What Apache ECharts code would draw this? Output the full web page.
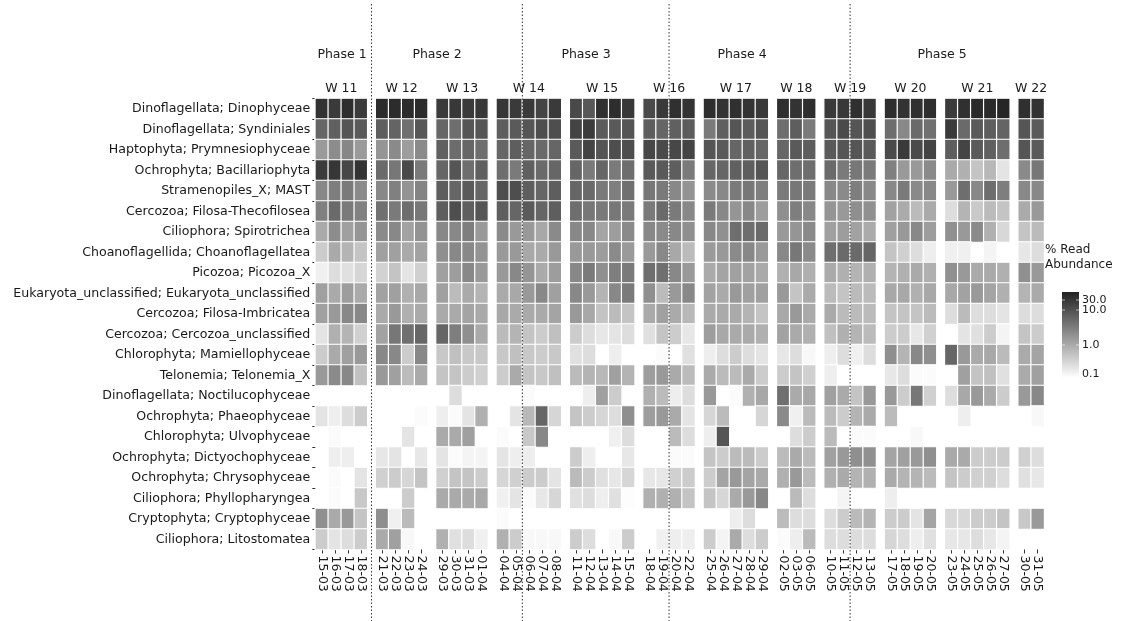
<!DOCTYPE html>
<html><head><meta charset="utf-8">
<script src="https://cdn.jsdelivr.net/npm/echarts@6/dist/echarts.min.js"></script>
<style>html,body{margin:0;padding:0;background:#fff}#c{width:1123px;height:621px}</style>
</head><body><div id="c"></div>
<script>
// ---------- DATA ----------
const weeks = ['W 11','W 12','W 13','W 14','W 15','W 16','W 17','W 18','W 19','W 20','W 21','W 22'];
const weekDates = [
  ['15-03','16-03','17-03','18-03'],
  ['21-03','22-03','23-03','24-03'],
  ['29-03','30-03','31-03','01-04'],
  ['04-04','05-04','06-04','07-04','08-04'],
  ['11-04','12-04','13-04','14-04','15-04'],
  ['18-04','19-04','20-04','22-04'],
  ['25-04','26-04','27-04','28-04','29-04'],
  ['02-05','03-05','06-05'],
  ['10-05','11-05','12-05','13-05'],
  ['17-05','18-05','19-05','20-05'],
  ['23-05','24-05','25-05','26-05','27-05'],
  ['30-05','31-05']
];
const phases = ['Phase 1','Phase 2','Phase 3','Phase 4','Phase 5'];
const phaseStarts = ['15-03','21-03','06-04','20-04','12-05'];
const taxa = [
  'Dinoflagellata; Dinophyceae','Dinoflagellata; Syndiniales','Haptophyta; Prymnesiophyceae',
  'Ochrophyta; Bacillariophyta','Stramenopiles_X; MAST','Cercozoa; Filosa-Thecofilosea',
  'Ciliophora; Spirotrichea','Choanoflagellida; Choanoflagellatea','Picozoa; Picozoa_X',
  'Eukaryota_unclassified; Eukaryota_unclassified','Cercozoa; Filosa-Imbricatea',
  'Cercozoa; Cercozoa_unclassified','Chlorophyta; Mamiellophyceae','Telonemia; Telonemia_X',
  'Dinoflagellata; Noctilucophyceae','Ochrophyta; Phaeophyceae','Chlorophyta; Ulvophyceae',
  'Ochrophyta; Dictyochophyceae','Ochrophyta; Chrysophyceae','Ciliophora; Phyllopharyngea',
  'Cryptophyta; Cryptophyceae','Ciliophora; Litostomatea'
];
const legendTicks = ['30.0','10.0','1.0','0.1'];
const _ = null;
// % read abundance, one value per date column (49 columns)
const dinophyceae = [25,21,29,20, 30,30,30,30, 20,22,21,22, 23,21,21,16,21, 14,9.2,27,29,22, 13.5,21,27,25, 29,25,27,25,22, 29,25,29, 21,22,27,22, 29,25,27,29, 20,27,32,32,36, 27,25];
const syndiniales = [6.3,7.4,10,8.7, 7.8,6.7,4.8,9.5, 6.3,5.1,10,10, 7.8,8.7,10,12,12, 15.8,19.7,8.2,8.7,10, 7.8,6.3,7.4,8.2, 3.7,7.4,10,8.2,10, 5.1,7.8,3.7, 10,13.5,10,12, 5.1,2.5,5.7,4.8, 21,5.7,8.7,7.8,6.7, 10,8.7];
const prymnesiophyceae = [1.54,2.25,2.6,1.54, 1.77,2.4,1.42,2.4, 7.4,5.4,6.3,5.1, 6.3,7.8,6.3,5.7,6.3, 8.7,15.8,10,12,12, 14.6,13.5,14.6,15.8, 10,8.7,6.3,7.4,6.3, 6.3,8.7,7.8, 8.7,10,10,8.7, 13.5,21,13.5,15.8, 7.8,15.8,8.7,7.4,5.1, 10,8.7];
const bacillariophyta = [20,23,14.6,25, 5.7,4.0,13.5,3.7, 6.3,10,5.1,7.4, 5.1,3.7,7.4,5.7,6.3, 6.3,3.7,6.3,3.7,5.1, 8.7,8.7,7.8,3.7, 6.3,6.3,7.4,7.8,10, 6.3,5.1,5.1, 5.7,3.7,4.0,3.7, 3.1,1.58,1.58,2.4, 1.0,0.85,0.49,0.68,0.21, 2.4,4.0];
const mast = [2.5,3.3,3.7,2.4, 2.5,3.1,1.87,2.8, 7.8,6.3,8.7,6.3, 12,12,7.8,6.3,7.8, 6.3,5.7,3.7,3.3,4.8, 4.0,3.7,2.5,1.87, 2.4,2.5,3.7,4.0,3.3, 3.7,4.0,3.7, 2.5,2.4,3.3,2.5, 2.5,3.7,2.4,2.5, 1.58,5.1,2.5,5.1,3.3, 2.5,2.5];
const thecofilosea = [3.1,5.7,3.7,3.0, 4.8,3.7,5.1,4.0, 7.8,12,7.8,10, 7.8,6.3,8.7,6.3,7.8, 5.1,4.0,3.7,4.0,3.7, 3.7,5.7,3.7,2.5, 3.7,2.5,1.77,2.5,1.42, 2.1,3.3,2.5, 1.77,1.58,2.1,2.0, 1.24,0.97,0.63,1.0, 0.25,0.76,0.43,0.63,0.49, 1.0,1.58];
const spirotrichea = [1.0,2.25,1.31,1.77, 2.4,2.5,1.24,1.87, 2.5,2.5,3.3,1.58, 2.4,1.58,1.58,1.06,2.4, 2.5,2.5,1.18,1.42,2.4, 2.5,2.4,2.5,2.1, 2.5,2.0,5.1,5.1,5.7, 1.58,1.77,2.4, 1.31,1.42,1.24,0.97, 1.31,1.58,2.5,1.42, 2.0,1.58,2.4,0.85,0.29, 0.49,0.63];
const choanoflagellatea = [0.40,1.0,0.76,0.49, 1.31,1.31,1.0,1.24, 2.1,2.5,2.5,1.87, 1.58,1.58,1.06,1.0,1.58, 1.58,1.58,1.42,2.4,1.54, 1.58,2.5,1.06,0.63, 1.54,1.58,2.4,2.5,1.58, 2.5,4.0,2.4, 5.1,5.7,5.7,6.3, 0.49,0.36,0.25,0.16, 0.15,0.15,_,0.135,_, 0.19,0.25];
const picozoa = [0.15,0.25,0.23,0.30, 0.34,0.49,0.21,0.36, 1.31,1.42,2.5,1.58, 1.58,2.5,1.77,1.0,1.42, 2.5,3.7,2.1,3.3,3.7, 5.1,4.8,2.5,1.58, 1.0,1.18,1.31,1.24,1.0, 0.85,1.06,0.85, 1.0,0.85,0.76,0.85, 0.76,0.85,1.0,0.85, 2.0,1.58,1.0,1.0,0.85, 2.0,1.58];
const eukaryotaUncl = [1.31,1.0,1.42,1.0, 1.24,1.31,0.85,1.06, 1.31,0.63,1.0,0.76, 1.0,1.06,1.58,2.5,1.31, 2.5,1.58,0.76,2.5,3.7, 2.1,0.63,1.58,2.5, 1.24,1.0,1.58,1.31,1.31, 1.58,0.49,1.0, 0.63,0.49,0.63,0.63, 1.06,1.06,0.85,1.06, 1.06,1.24,1.58,1.18,0.85, 0.76,1.0];
const imbricatea = [1.31,1.58,2.5,2.5, 1.0,1.58,0.85,1.0, 1.0,1.0,1.18,1.0, 1.06,1.0,1.0,1.0,1.18, 1.58,1.06,0.49,0.63,0.49, 1.0,1.31,1.0,0.68, 1.0,1.0,1.0,0.76,0.49, 1.06,1.58,1.0, 1.0,0.63,0.63,0.63, 0.49,0.49,0.49,0.63, 0.25,0.63,0.25,0.25,0.21, 0.25,0.25];
const cercozoaUncl = [0.21,0.85,0.76,0.36, 1.24,4.0,4.8,6.3, 6.3,3.3,2.1,1.0, 0.63,0.76,0.49,0.40,0.55, 0.40,0.25,0.19,0.21,0.25, 0.23,0.49,0.40,0.19, 1.42,1.06,1.0,1.0,0.85, 1.24,1.0,0.85, 0.55,0.85,0.76,0.63, 0.40,0.40,0.19,0.36, _,0.21,0.23,0.40,0.135, 0.49,0.40];
const mamiellophyceae = [0.40,1.0,1.31,1.58, 2.5,2.5,0.40,2.5, 0.44,0.55,0.44,0.44, 0.44,0.55,0.44,0.40,0.44, 0.23,0.25,_,0.16,_, _,0.11,_,0.23, 0.16,0.25,0.40,0.25,0.21, 0.19,0.25,0.12, 0.16,0.25,0.15,0.25, 2.1,0.76,2.5,2.1, 6.3,1.58,1.0,1.06,0.63, 1.0,1.18];
const telonemia = [1.58,2.4,2.5,0.55, 1.58,1.31,0.63,1.0, 0.49,0.49,0.40,0.36, 0.40,1.0,0.49,0.44,0.55, 0.63,0.76,0.68,1.31,0.76, 1.42,1.58,1.0,0.63, 1.0,0.63,0.63,1.0,0.40, 0.40,0.49,0.36, 0.16,_,_,_, 0.19,0.25,0.11,0.11, _,1.31,0.49,0.55,0.23, 1.0,1.31];
const noctilucophyceae = [_,_,_,_, _,_,_,_, _,0.25,_,_, _,_,0.11,_,_, _,0.16,1.31,0.40,_, 0.85,0.63,0.16,0.25, 1.58,_,0.11,0.85,1.06, 4.8,1.0,1.06, 1.31,1.0,0.49,1.58, 1.58,0.40,4.0,0.36, 0.25,1.06,1.58,1.0,0.40, 1.58,2.5];
const phaeophyceae = [0.21,0.16,0.25,0.40, _,_,_,0.11, 0.16,0.11,0.21,0.85, _,0.21,0.68,6.3,0.30, 0.49,0.40,0.30,0.25,2.1, 1.42,1.58,1.0,0.21, 0.30,0.63,_,_,0.30, 2.4,0.15,0.63, 0.63,0.40,0.76,1.0, 0.63,_,_,_, _,0.16,_,_,_, _,0.12];
const ulvophyceae = [_,0.11,_,_, _,_,0.21,_, 1.0,1.0,1.31,_, 0.11,_,0.44,2.5,_, _,_,_,0.15,0.25, _,_,0.63,0.25, 0.16,10,_,_,_, _,0.25,0.40, 0.63,_,0.11,0.11, _,_,0.12,_, _,_,_,_,_, _,_];
const dictyochophyceae = [_,0.16,0.16,_, 0.19,0.21,_,0.19, 0.21,0.11,0.135,0.135, 0.21,0.16,0.16,_,_, 0.40,0.16,_,_,0.19, _,_,0.11,0.11, 0.49,0.40,0.63,0.63,0.40, 0.63,1.0,0.63, 1.31,1.58,2.1,2.0, 1.18,1.31,1.58,2.1, 1.0,1.0,0.40,0.40,0.40, 0.36,0.25];
const chrysophyceae = [_,0.11,_,0.21, 0.36,0.40,0.30,0.49, 0.36,0.49,0.49,0.40, 0.30,0.36,0.40,0.40,0.21, 0.63,0.40,0.23,0.19,0.30, 0.19,0.19,0.36,0.40, 0.40,1.18,1.58,1.18,1.0, 0.85,1.58,0.63, 0.85,1.0,0.76,0.85, 1.0,0.76,0.76,0.63, 0.49,0.40,0.36,0.36,0.25, 0.23,0.19];
const phyllopharyngea = [_,0.11,_,0.44, _,_,0.40,_, 1.0,1.0,1.0,1.06, 0.15,0.21,0.11,0.19,0.30, 0.23,0.25,0.16,0.23,0.106, 0.85,0.85,0.85,0.49, 0.49,0.30,1.0,1.58,2.5, _,0.63,0.25, _,0.135,_,_, 0.16,_,_,_, _,_,_,_,_, _,_];
const cryptophyceae = [2.1,1.0,1.58,0.49, 2.1,0.15,0.63,_, _,_,_,_, 0.11,_,_,_,_, _,_,_,_,_, _,_,_,_, _,_,0.16,0.25,_, 0.63,0.25,0.25, 0.25,0.40,0.63,0.76, 0.40,0.40,0.21,1.18, 0.29,0.29,0.40,0.40,0.49, 0.44,1.58];
const litostomatea = [0.40,0.21,0.25,0.40, 1.0,1.31,0.12,_, 0.85,0.23,0.25,0.15, 0.85,0.40,0.12,0.12,0.12, 0.40,0.25,_,0.12,0.40, _,0.15,0.16,0.16, 0.40,0.135,1.0,0.25,0.40, 0.11,0.16,0.63, 0.25,0.25,0.25,0.25, 0.30,0.25,0.16,0.23, 0.19,0.19,0.25,0.19,0.135, _,_];

const values = [dinophyceae, syndiniales, prymnesiophyceae, bacillariophyta, mast, thecofilosea,
  spirotrichea, choanoflagellatea, picozoa, eukaryotaUncl, imbricatea, cercozoaUncl, mamiellophyceae,
  telonemia, noctilucophyceae, phaeophyceae, ulvophyceae, dictyochophyceae, chrysophyceae,
  phyllopharyngea, cryptophyceae, litostomatea];

// ---------- LAYOUT ----------
const FONT = '"DejaVu Sans", Verdana, sans-serif';
const LEFT0 = 315.3, PITCH = 13, GAP = 8.35, TOP = 98.5, ROW_H = 20.5;
const PHASE_LABEL_X = [342, 437, 586, 742, 942];
const TEXT = '#1a1a1a';

const chart = echarts.init(document.getElementById('c'), null, {renderer: 'canvas'});
const grids = [], xAxes = [], yAxes = [], series = [], facetLeft = [];
let colStart = 0, left = LEFT0;
weekDates.forEach((dates, k) => {
  const w = dates.length * PITCH;
  facetLeft.push(left);
  grids.push({left: left, top: TOP, width: w, height: taxa.length * ROW_H});
  xAxes.push({
    type: 'category', gridIndex: k, data: dates, position: 'bottom',
    axisLine: {show: false},
    axisTick: {show: true, alignWithLabel: true, length: 4, lineStyle: {color: '#333'}},
    axisLabel: {rotate: -90, interval: 0, fontFamily: FONT, fontSize: 12.5, color: TEXT, margin: 6},
    splitLine: {show: false}
  });
  yAxes.push({
    type: 'category', gridIndex: k, data: taxa, inverse: true,
    axisLine: {show: false},
    axisTick: {show: k === 0, length: 3, lineStyle: {color: '#333'}},
    axisLabel: {show: k === 0, fontFamily: FONT, fontSize: 12.6, color: TEXT, margin: 5},
    splitLine: {show: false}
  });
  const data = [];
  taxa.forEach((t, i) => {
    dates.forEach((d, j) => {
      const v = values[i][colStart + j];
      if (v != null) data.push([j, i, v, Math.log10(v)]);
    });
  });
  series.push({
    type: 'heatmap', xAxisIndex: k, yAxisIndex: k, data: data,
    itemStyle: {borderColor: '#ffffff', borderWidth: 1.2},
    emphasis: {disabled: true}, silent: true
  });
  colStart += dates.length;
  left += w + GAP;
});

chart.setOption({
  animation: false,
  backgroundColor: '#ffffff',
  grid: grids, xAxis: xAxes, yAxis: yAxes, series: series,
  visualMap: {
    type: 'continuous', show: false, dimension: 3, min: -1, max: 1.6,
    seriesIndex: series.map((s, i) => i),
    inRange: {color: ['#ffffff', '#222222']}
  }
});

// ---------- ANNOTATIONS ----------
const g = [];
phaseStarts.slice(1).forEach(d => {
  const k = weekDates.findIndex(ds => ds.includes(d));
  const j = weekDates[k].indexOf(d);
  const cx = chart.convertToPixel({xAxisIndex: k}, j);
  const x = j === 0 ? cx - PITCH / 2 - GAP / 2 : cx - PITCH / 2;
  g.push({type: 'line', silent: true, z: 100,
    shape: {x1: x, y1: 4, x2: x, y2: 621},
    style: {stroke: '#333', lineWidth: 1, lineDash: [1.5, 2]}});
});
phases.forEach((p, i) => g.push({type: 'text', x: PHASE_LABEL_X[i], y: 55, silent: true,
  style: {text: p, font: '12.5px ' + FONT, fill: TEXT, textAlign: 'center', textVerticalAlign: 'middle'}}));
weeks.forEach((w, k) => g.push({type: 'text', x: facetLeft[k] + weekDates[k].length * PITCH / 2, y: 89, silent: true,
  style: {text: w, font: '12.5px ' + FONT, fill: TEXT, textAlign: 'center', textVerticalAlign: 'middle'}}));

// colour legend
g.push({type: 'text', x: 1045, y: 250, silent: true,
  style: {text: '% Read', font: '12px ' + FONT, fill: TEXT, textAlign: 'left', textVerticalAlign: 'middle'}});
g.push({type: 'text', x: 1045, y: 265, silent: true,
  style: {text: 'Abundance', font: '12px ' + FONT, fill: TEXT, textAlign: 'left', textVerticalAlign: 'middle'}});
g.push({type: 'rect', silent: true, shape: {x: 1062, y: 292, width: 17, height: 86},
  style: {fill: new echarts.graphic.LinearGradient(0, 0, 0, 1, [{offset: 0, color: '#222222'}, {offset: 1, color: '#ffffff'}])}});
const LEG_Y = [300, 310, 345, 374];
legendTicks.forEach((t, i) => {
  g.push({type: 'text', x: 1082, y: LEG_Y[i], silent: true,
    style: {text: t, font: '11px ' + FONT, fill: TEXT, textAlign: 'left', textVerticalAlign: 'middle'}});
  g.push({type: 'line', silent: true, shape: {x1: 1062, y1: LEG_Y[i], x2: 1065, y2: LEG_Y[i]}, style: {stroke: '#fff', lineWidth: 1, opacity: 0.6}});
  g.push({type: 'line', silent: true, shape: {x1: 1076, y1: LEG_Y[i], x2: 1079, y2: LEG_Y[i]}, style: {stroke: '#fff', lineWidth: 1, opacity: 0.6}});
});
chart.setOption({graphic: {elements: g}});
</script>
</body></html>
